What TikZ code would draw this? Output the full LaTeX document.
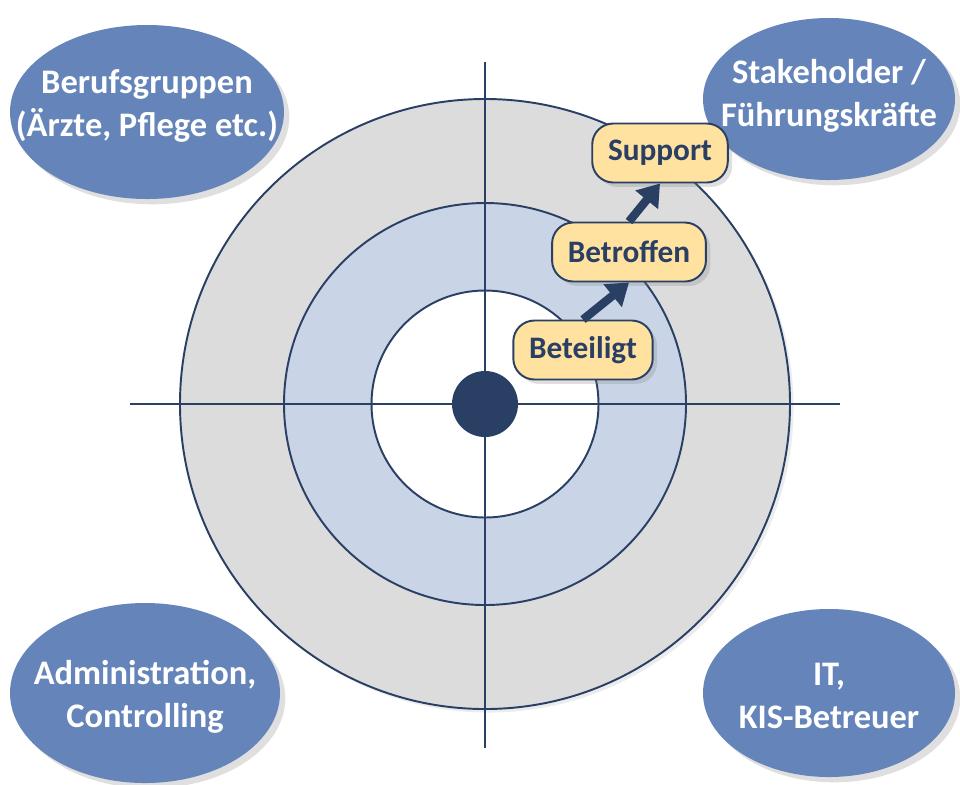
\documentclass[tikz,border=0pt]{standalone}
\usepackage{fontspec}
\setmainfont{Carlito}
\usepackage{xcolor}
\usetikzlibrary{arrows.meta,positioning,shapes.geometric,shadows}
\definecolor{navy}{HTML}{2A3F64}
\definecolor{groupblue}{HTML}{6585BA}
\definecolor{ringgray}{HTML}{DCDCDC}
\definecolor{ringblue}{HTML}{C9D5E7}
\definecolor{boxyellow}{HTML}{FFE1A0}

\begin{document}
\begin{tikzpicture}[
  x=0.2mm,y=-0.2mm,
  ring/.style={circle,draw=navy,line width=1.1pt,inner sep=0pt},
  group/.style={ellipse,fill=groupblue,inner sep=0pt,
    drop shadow={shadow xshift=3pt,shadow yshift=-3pt,opacity=0.25}},
  grouptext/.style={text=white,align=center,font=\bfseries\fontsize{19.6}{24.5}\selectfont},
  level/.style={rectangle,rounded corners=12pt,draw=navy,line width=1.1pt,fill=boxyellow,
    text=navy,font=\bfseries\fontsize{17.8}{24}\selectfont,inner xsep=9pt,minimum height=1.18cm,
    drop shadow={shadow xshift=2.5pt,shadow yshift=-2.5pt,opacity=0.25}},
  rise/.style={draw=navy,line width=4.8pt,-{Triangle[length=12pt,width=16pt]}},
  axis/.style={draw=navy,line width=1.1pt}
]
\useasboundingbox[fill=white] (0,0) rectangle (960,784);

% rings around the centre
\node[ring,fill=ringgray,minimum size=12.2cm,
  drop shadow={shadow xshift=2pt,shadow yshift=-2pt,opacity=0.15}] (outer) at (485,404) {};
\node[ring,fill=ringblue,minimum size=8.04cm] (middle) at (outer) {};
\node[ring,fill=white,minimum size=4.54cm] (inner) at (outer) {};

% axes
\coordinate (west) at (130,404);
\coordinate (east) at (840,404);
\coordinate (north) at (485,62);
\coordinate (south) at (485,748);
\draw[axis] (west) -- (east);
\draw[axis] (north) -- (south);
\node[circle,fill=navy,minimum size=1.32cm,inner sep=0pt] (core) at (outer) {};

% groups in the corners
\node[group,minimum width=5.48cm,minimum height=3.48cm] (berufe) at (147,112) {};
\node[grouptext] at (147,106) {Berufsgruppen\\(Ärzte, Pflege etc.)};
\node[group,minimum width=5.04cm,minimum height=3.24cm] (stake) at (829,99) {};
\node[grouptext] at (829,96) {Stakeholder /\\Führungskräfte};
\node[group,minimum width=5.4cm,minimum height=3.6cm] (admin) at (145,693) {};
\node[grouptext] at (145,697) {Administration,\\Controlling};
\node[group,minimum width=5.04cm,minimum height=3.36cm] (it) at (829,693) {};
\node[grouptext] at (829,696) {IT,\\KIS-Betreuer};

% levels of involvement
\node[level] (beteiligt) at (583,350) {Beteiligt};
\node[level] (betroffen) at (629,252) {Betroffen};
\node[level] (support) at (660,153) {Support};
\draw[rise] (beteiligt.north) -- (betroffen.south);
\draw[rise] (betroffen.north) -- (support.south);
\end{tikzpicture}
\end{document}
